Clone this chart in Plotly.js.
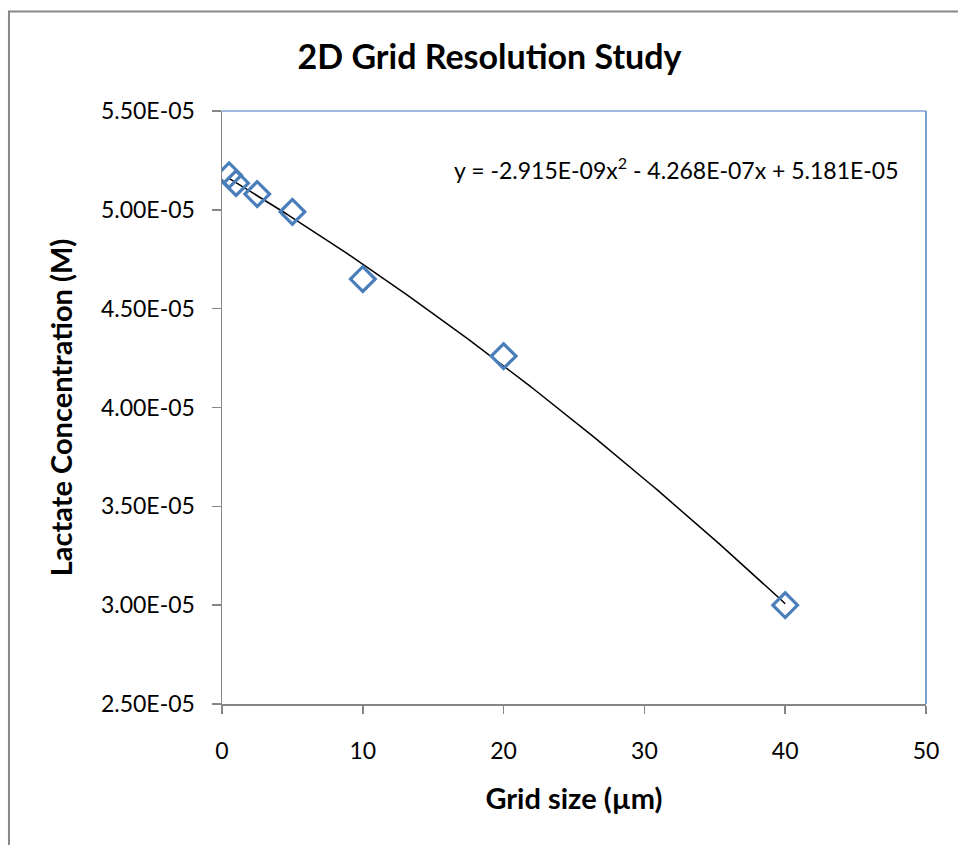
<!DOCTYPE html>
<html>
<head>
<meta charset="utf-8">
<script src="https://cdn.plot.ly/plotly-3.0.1.min.js"></script>
<style>html,body{margin:0;padding:0;background:#fff;}#chart{width:958px;height:845px;}</style>
</head>
<body>
<div id="chart"></div>
<script>
// Data
const gridSize = [0.5, 1, 2.5, 5, 10, 20, 40];
const lactate = [5.175e-5, 5.135e-5, 5.08e-5, 4.99e-5, 4.65e-5, 4.26e-5, 3.0e-5];
// Polynomial trendline coefficients shown on the chart: [a2, a1, a0]
const trendCoef = [-2.915e-9, -4.268e-7, 5.181e-5];
const trendRange = [0.5, 40];
const yTicks = [2.5e-5, 3.0e-5, 3.5e-5, 4.0e-5, 4.5e-5, 5.0e-5, 5.5e-5];
const yTickText = ["2.50E-05", "3.00E-05", "3.50E-05", "4.00E-05", "4.50E-05", "5.00E-05", "5.50E-05"];
const xTicks = [0, 10, 20, 30, 40, 50];

const tx = [], ty = [];
const n = 100;
for (let i = 0; i <= n; i++) {
  const x = trendRange[0] + (trendRange[1] - trendRange[0]) * i / n;
  tx.push(x);
  ty.push(trendCoef[0] * x * x + trendCoef[1] * x + trendCoef[2]);
}

const font = "Lato, 'Open Sans', sans-serif";

const traces = [
  {x: tx, y: ty, mode: 'lines', line: {color: '#000000', width: 1.5}, hoverinfo: 'skip'},
  {x: gridSize, y: lactate, mode: 'markers',
   marker: {symbol: 'diamond-open', size: 19, color: '#4a7ebb', line: {width: 3.2, color: '#4a7ebb'}}}
];

const layout = {
  width: 958, height: 845,
  margin: {l: 222, r: 32, t: 111, b: 141, pad: 0},
  paper_bgcolor: '#ffffff', plot_bgcolor: '#ffffff',
  showlegend: false,
  font: {family: font, color: '#000000', size: 23},
  title: {text: '<b>2D Grid Resolution Study</b>', font: {family: font, size: 34, color: '#000'},
          x: 0.511, xref: 'container', xanchor: 'center', y: 0.932, yref: 'container', yanchor: 'middle'},
  xaxis: {
    range: [0, 50], tickvals: xTicks, ticktext: xTicks.map(String),
    showgrid: false, zeroline: false, showline: true, linecolor: '#868686', linewidth: 1.5,
    ticks: 'outside', ticklen: 8, tickcolor: '#868686', tickwidth: 1.5,
    ticklabelstandoff: 18,
    tickfont: {family: font, size: 23, color: '#000'},
    title: {text: '<b>Grid size (µm)</b>', font: {family: font, size: 29, color: '#000'}, standoff: 25}
  },
  yaxis: {
    range: [2.5e-5, 5.5e-5], tickvals: yTicks, ticktext: yTickText,
    showgrid: false, zeroline: false, showline: true, linecolor: '#868686', linewidth: 1.5,
    ticks: 'outside', ticklen: 9, tickcolor: '#868686', tickwidth: 1.5,
    ticklabelstandoff: 12,
    tickfont: {family: font, size: 23, color: '#000'},
    title: {text: '<b>Lactate Concentration (M)</b>', font: {family: font, size: 29, color: '#000'}, standoff: 20}
  },
  shapes: [
    {type: 'rect', xref: 'paper', yref: 'paper', x0: -0.3026, x1: 1.2, y0: -0.4, y1: 1.168,
     line: {color: '#888888', width: 2}, fillcolor: 'rgba(0,0,0,0)', layer: 'below'},
    {type: 'line', xref: 'paper', yref: 'paper', x0: 0, x1: 1, y0: 1, y1: 1, line: {color: '#7fa3d3', width: 1.5}},
    {type: 'line', xref: 'paper', yref: 'paper', x0: 1, x1: 1, y0: 0, y1: 1, line: {color: '#4f81bd', width: 1.5}}
  ],
  annotations: [
    {text: 'y = -2.915E-09x<sup>2</sup> - 4.268E-07x + 5.181E-05', xref: 'paper', yref: 'paper',
     x: (452 - 222) / 704, y: 1 - (168 - 111) / 593, xanchor: 'left', yanchor: 'middle', showarrow: false,
     font: {family: font, size: 23, color: '#000'}}
  ]
};

Plotly.newPlot('chart', traces, layout, {displayModeBar: false, staticPlot: true});
</script>
</body>
</html>
